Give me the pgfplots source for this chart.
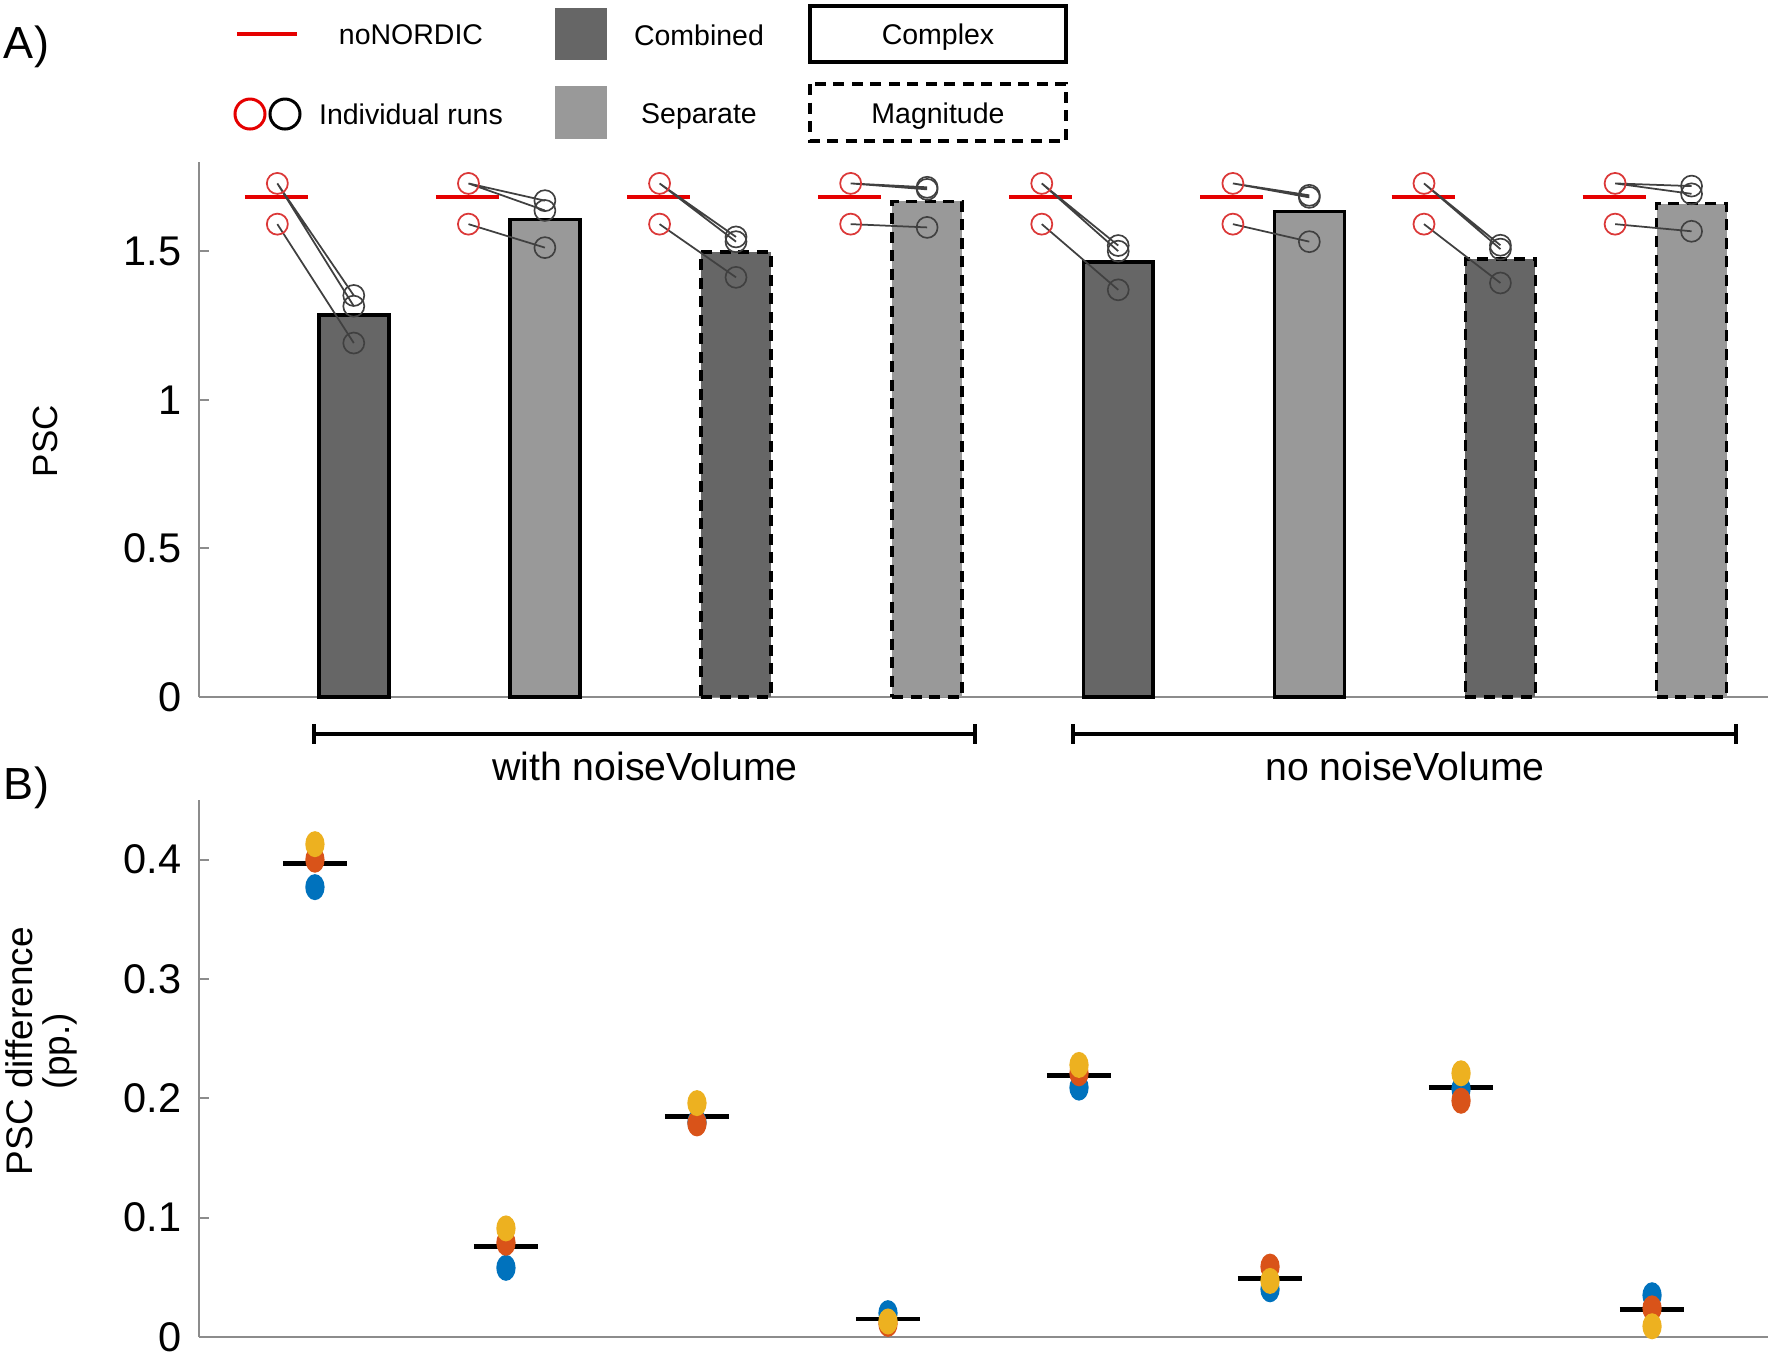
\documentclass[border=0pt]{standalone}
\usepackage{fontspec}
\setmainfont{Liberation Sans}
\usepackage{pgfplots}
\pgfplotsset{compat=1.18}
\definecolor{mblue}{rgb}{0,0.447,0.741}
\definecolor{morange}{rgb}{0.85,0.325,0.098}
\definecolor{myellow}{rgb}{0.929,0.694,0.125}
\definecolor{cdark}{HTML}{666666}
\definecolor{clight}{HTML}{999999}
\definecolor{mred}{rgb}{0.90,0.0,0.0}
\definecolor{cred}{rgb}{0.86,0.22,0.22}
\begin{document}
\begin{tikzpicture}
\path[use as bounding box] (0,0) rectangle (354.4pt,-271.2pt);

% ---------------- Panel A ----------------
\begin{axis}[
  at={(39.8pt,-139.4pt)}, anchor=south west,
  scale only axis, width=313.8pt, height=107pt,
  xmin=0.19, xmax=8.40, ymin=0, ymax=1.8,
  axis lines*=left, axis line style={black!45, line width=0.4pt},
  xtick=\empty, ytick={0,0.5,1,1.5}, yticklabels={0,0.5,1,1.5},
  tick style={black!45, line width=0.4pt}, major tick length=2pt,
  tick label style={font=\fontsize{8.3}{10}\selectfont},
  /pgf/number format/assume math mode=true,
  clip=false, unbounded coords=jump,
]
% bars
\addplot[ybar, bar width=0.366, bar shift=0pt, fill=cdark, draw=black, line width=0.7pt] coordinates {(1,1.286)};
\addplot[ybar, bar width=0.366, bar shift=0pt, fill=clight, draw=black, line width=0.7pt] coordinates {(2,1.606)};
\addplot[ybar, bar width=0.366, bar shift=0pt, fill=cdark, draw=black, line width=0.7pt, dash pattern=on 2.2pt off 1.5pt] coordinates {(3,1.497)};
\addplot[ybar, bar width=0.366, bar shift=0pt, fill=clight, draw=black, line width=0.7pt, dash pattern=on 2.2pt off 1.5pt] coordinates {(4,1.668)};
\addplot[ybar, bar width=0.366, bar shift=0pt, fill=cdark, draw=black, line width=0.7pt] coordinates {(5,1.463)};
\addplot[ybar, bar width=0.366, bar shift=0pt, fill=clight, draw=black, line width=0.7pt] coordinates {(6,1.634)};
\addplot[ybar, bar width=0.366, bar shift=0pt, fill=cdark, draw=black, line width=0.7pt, dash pattern=on 2.2pt off 1.5pt] coordinates {(7,1.473)};
\addplot[ybar, bar width=0.366, bar shift=0pt, fill=clight, draw=black, line width=0.7pt, dash pattern=on 2.2pt off 1.5pt] coordinates {(8,1.660)};
% noNORDIC means
\addplot[mred, line width=0.9pt] coordinates {(0.43,1.682) (0.76,1.682) (0.76,nan)
 (1.43,1.682) (1.76,1.682) (1.76,nan) (2.43,1.682) (2.76,1.682) (2.76,nan)
 (3.43,1.682) (3.76,1.682) (3.76,nan) (4.43,1.682) (4.76,1.682) (4.76,nan)
 (5.43,1.682) (5.76,1.682) (5.76,nan) (6.43,1.682) (6.76,1.682) (6.76,nan)
 (7.43,1.682) (7.76,1.682)};
% connecting lines (run: noNORDIC -> NORDIC)
\addplot[black!75, line width=0.35pt] coordinates {
 (0.6,1.728) (1,1.351) (1,nan) (0.6,1.591) (1,1.191) (1,nan) (0.6,1.728) (1,1.315) (1,nan)
 (1.6,1.728) (2,1.670) (2,nan) (1.6,1.591) (2,1.512) (2,nan) (1.6,1.728) (2,1.637) (2,nan)
 (2.6,1.728) (3,1.548) (3,nan) (2.6,1.591) (3,1.412) (3,nan) (2.6,1.728) (3,1.532) (3,nan)
 (3.6,1.728) (4,1.708) (4,nan) (3.6,1.591) (4,1.580) (4,nan) (3.6,1.728) (4,1.715) (4,nan)
 (4.6,1.728) (5,1.519) (5,nan) (4.6,1.591) (5,1.370) (5,nan) (4.6,1.728) (5,1.500) (5,nan)
 (5.6,1.728) (6,1.688) (6,nan) (5.6,1.591) (6,1.532) (6,nan) (5.6,1.728) (6,1.681) (6,nan)
 (6.6,1.728) (7,1.520) (7,nan) (6.6,1.591) (7,1.393) (7,nan) (6.6,1.728) (7,1.507) (7,nan)
 (7.6,1.728) (8,1.693) (8,nan) (7.6,1.591) (8,1.567) (8,nan) (7.6,1.728) (8,1.719)};
% noNORDIC runs
\addplot[only marks, mark=o, mark size=2.1pt, cred, mark options={line width=0.35pt}] coordinates {
 (0.6,1.728) (0.6,1.591) (1.6,1.728) (1.6,1.591) (2.6,1.728) (2.6,1.591) (3.6,1.728) (3.6,1.591)
 (4.6,1.728) (4.6,1.591) (5.6,1.728) (5.6,1.591) (6.6,1.728) (6.6,1.591) (7.6,1.728) (7.6,1.591)};
% NORDIC runs
\addplot[only marks, mark=o, mark size=2.1pt, black!75, mark options={line width=0.33pt}] coordinates {
 (1,1.351) (1,1.191) (1,1.315) (2,1.670) (2,1.512) (2,1.637)
 (3,1.548) (3,1.412) (3,1.532) (4,1.708) (4,1.580) (4,1.715)
 (5,1.519) (5,1.370) (5,1.500) (6,1.688) (6,1.532) (6,1.681)
 (7,1.520) (7,1.393) (7,1.507) (8,1.693) (8,1.567) (8,1.719)};
\end{axis}

% ---------------- Panel B ----------------
\begin{axis}[
  at={(39.8pt,-267.4pt)}, anchor=south west,
  scale only axis, width=313.8pt, height=107.4pt,
  xmin=0.393, xmax=8.607, ymin=0, ymax=0.45,
  axis lines*=left, axis line style={black!45, line width=0.4pt},
  xtick=\empty, ytick={0,0.1,0.2,0.3,0.4}, yticklabels={0,0.1,0.2,0.3,0.4},
  tick style={black!45, line width=0.4pt}, major tick length=2pt,
  tick label style={font=\fontsize{8.3}{10}\selectfont},
  /pgf/number format/assume math mode=true,
  clip=false, unbounded coords=jump,
]
\addplot[only marks, mark=*, mblue, mark size=2.4pt, mark options={xscale=0.72}] coordinates {
 (1,0.377) (2,0.058) (3,0.180) (4,0.020) (5,0.209) (6,0.040) (7,0.208) (8,0.035)};
\addplot[only marks, mark=*, morange, mark size=2.4pt, mark options={xscale=0.72}] coordinates {
 (1,0.400) (2,0.079) (3,0.179) (4,0.011) (5,0.221) (6,0.059) (7,0.198) (8,0.024)};
\addplot[only marks, mark=*, myellow, mark size=2.4pt, mark options={xscale=0.72}] coordinates {
 (1,0.413) (2,0.091) (3,0.196) (4,0.013) (5,0.228) (6,0.047) (7,0.221) (8,0.009)};
\addplot[black, line width=0.9pt] coordinates {
 (0.832,0.397) (1.168,0.397) (1.168,nan) (1.832,0.076) (2.168,0.076) (2.168,nan)
 (2.832,0.185) (3.168,0.185) (3.168,nan) (3.832,0.015) (4.168,0.015) (4.168,nan)
 (4.832,0.219) (5.168,0.219) (5.168,nan) (5.832,0.049) (6.168,0.049) (6.168,nan)
 (6.832,0.209) (7.168,0.209) (7.168,nan) (7.832,0.023) (8.168,0.023)};
\end{axis}

% ---------------- Overlay (legend, labels, brackets) in pixel units ----------------
\begin{axis}[
  at={(0pt,-271.2pt)}, anchor=south west,
  scale only axis, width=354.4pt, height=271.2pt,
  xmin=0, xmax=1772, ymin=0, ymax=1356, y dir=reverse,
  hide axis, clip=false,
]
% legend
\draw[mred, line width=0.9pt] (axis cs:237,34) -- (axis cs:297,34);
\node[font=\fontsize{5.7}{7}\selectfont] at (axis cs:411,35) {noNORDIC};
\addplot[only marks, mark=o, mark size=3pt, mred, mark options={line width=0.6pt}] coordinates {(250,114)};
\addplot[only marks, mark=o, mark size=3pt, black, mark options={line width=0.6pt}] coordinates {(285,114)};
\node[font=\fontsize{5.7}{7}\selectfont] at (axis cs:411,114) {Individual runs};
\fill[cdark] (axis cs:555,8) rectangle (axis cs:607,60);
\node[font=\fontsize{5.7}{7}\selectfont] at (axis cs:699,35) {Combined};
\fill[clight] (axis cs:555,86) rectangle (axis cs:607,139);
\node[font=\fontsize{5.7}{7}\selectfont] at (axis cs:699,116) {Separate};
\draw[black, line width=0.8pt] (axis cs:810,6) rectangle (axis cs:1066,62);
\node[font=\fontsize{5.7}{7}\selectfont] at (axis cs:938,37) {Complex};
\draw[black, line width=0.8pt, dash pattern=on 2.2pt off 1.5pt] (axis cs:810,84) rectangle (axis cs:1066,141);
\node[font=\fontsize{5.7}{7}\selectfont] at (axis cs:938,116) {Magnitude};
% panel letters
\node[anchor=west, font=\fontsize{9}{10}\selectfont, inner sep=0pt] at (axis cs:3,47) {A)};
\node[anchor=west, font=\fontsize{9}{10}\selectfont, inner sep=0pt] at (axis cs:3,788) {B)};
% y labels
\node[rotate=90, font=\fontsize{7}{8}\selectfont] at (axis cs:45,441) {PSC};
\node[rotate=90, align=center, font=\fontsize{7.4}{7.4}\selectfont] at (axis cs:41,1051) {PSC difference\\(pp.)};
% group brackets
\draw[black, line width=0.7pt] (axis cs:314,734) -- (axis cs:975,734);
\draw[black, line width=0.7pt] (axis cs:314,724) -- (axis cs:314,744);
\draw[black, line width=0.7pt] (axis cs:975,724) -- (axis cs:975,744);
\node[font=\fontsize{7.85}{10}\selectfont] at (axis cs:645,766) {with noiseVolume};
\draw[black, line width=0.7pt] (axis cs:1073,734) -- (axis cs:1736,734);
\draw[black, line width=0.7pt] (axis cs:1073,724) -- (axis cs:1073,744);
\draw[black, line width=0.7pt] (axis cs:1736,724) -- (axis cs:1736,744);
\node[font=\fontsize{7.85}{10}\selectfont] at (axis cs:1405,766) {no noiseVolume};
\end{axis}
\end{tikzpicture}
\end{document}
